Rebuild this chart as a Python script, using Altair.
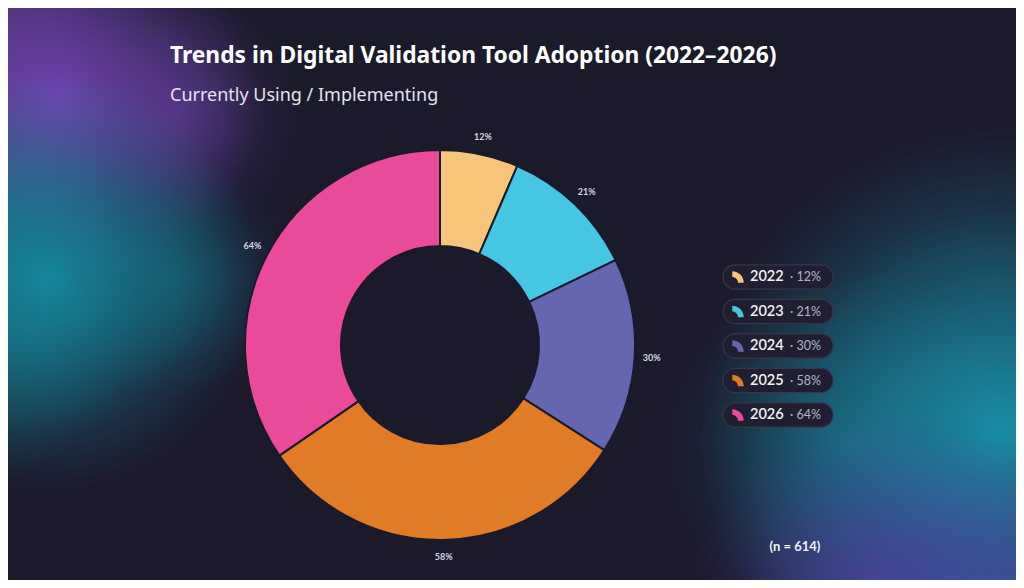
import altair as alt
import pandas as pd

# ---- data ----
years = ["2022", "2023", "2024", "2025", "2026"]
values = [12, 21, 30, 58, 64]
colors = ["#F7C57A", "#45C7E3", "#6467B0", "#E27B25", "#EA4A9A"]

title_text = "Trends in Digital Validation Tool Adoption (2022–2026)"
subtitle_text = "Currently Using / Implementing"
note_text = "(n = 614)"

df = pd.DataFrame({"year": years, "value": values, "idx": list(range(len(years)))})

BG = "#1b1a2b"
FONT = "Lato"
TFONT = "Noto Sans"
W, H = 1008, 572
CX, CY = 432, 337

color_scale = alt.Scale(domain=years, range=colors)
one = alt.Data(values=[{}])


def blob(cx, cy, r, rgb, a):
    grad = alt.RadialGradient(
        gradient="radial", x1=0.5, y1=0.5, r1=0, x2=0.5, y2=0.5, r2=0.5,
        stops=[
            alt.GradientStop(color=f"rgba({rgb},{a})", offset=0),
            alt.GradientStop(color=f"rgba({rgb},{a*0.6})", offset=0.4),
            alt.GradientStop(color=f"rgba({rgb},{a*0.2})", offset=0.75),
            alt.GradientStop(color=f"rgba({rgb},0)", offset=1),
        ],
    )
    return alt.Chart(one).mark_rect(fill=grad, clip=True).encode(
        x=alt.value(cx - r), x2=alt.value(cx + r),
        y=alt.value(cy - r), y2=alt.value(cy + r),
    )


blobs = [
    blob(50, 90, 200, "112,68,178", 0.95),
    blob(170, 105, 120, "112,68,178", 0.5),
    blob(-40, 60, 180, "112,68,178", 0.6),
    blob(40, 272, 210, "20,138,158", 0.95),
    blob(165, 268, 120, "20,130,150", 0.45),
    blob(-60, 280, 200, "20,138,158", 0.6),
    blob(992, 420, 300, "24,148,172", 0.95),
    blob(840, 440, 180, "24,140,165", 0.45),
    blob(880, 600, 200, "84,66,170", 0.85),
    blob(1010, 590, 160, "70,80,170", 0.7),
]

base = alt.Chart(df)

arcs = base.mark_arc(outerRadius=195, innerRadius=99, stroke=BG, strokeWidth=2).encode(
    theta=alt.Theta("value:Q", stack=True),
    color=alt.Color("year:N", scale=color_scale, legend=None),
    order=alt.Order("idx:Q"),
    x=alt.value(CX), y=alt.value(CY),
)

arc_labels = base.mark_text(radius=212, fontSize=9, fontWeight="bold", font=FONT,
                            color="#d6d6e0").encode(
    theta=alt.Theta("value:Q", stack=True),
    order=alt.Order("idx:Q"),
    text=alt.Text("lbl:N"),
    x=alt.value(CX), y=alt.value(CY),
).transform_calculate(lbl="datum.value + '%'")

ly = alt.Scale(domain=[0, 4], range=[269, 407])

pills = base.mark_rect(cornerRadius=12, fill="#201f31", stroke="#36364c", strokeWidth=1.2).encode(
    x=alt.value(715), x2=alt.value(825),
    y=alt.Y("y0:Q", scale=ly, axis=None), y2="y1:Q",
).transform_calculate(y0="datum.idx - 0.35", y1="datum.idx + 0.35")

icon_path = "M -1 -1 A 2 2 0 0 1 1 1 L 0 1 A 1 1 0 0 0 -1 0 Z"
icons = base.mark_point(shape=icon_path, size=130, filled=True, opacity=1).encode(
    x=alt.value(730),
    y=alt.Y("idx:Q", scale=ly, axis=None),
    color=alt.Color("year:N", scale=color_scale, legend=None),
)

year_txt = base.mark_text(align="left", baseline="middle", fontSize=14.5, fontWeight=600,
                          font=FONT, color="#f2f2f6").encode(
    x=alt.value(742),
    y=alt.Y("idx:Q", scale=ly, axis=None),
    text="year:N",
)

pct_txt = base.mark_text(align="left", baseline="middle", fontSize=12.5, font=FONT,
                         color="#b4b4c6").encode(
    x=alt.value(782),
    y=alt.Y("idx:Q", scale=ly, axis=None),
    text="lbl:N",
).transform_calculate(lbl="'·  ' + datum.value + '%'")

title = alt.Chart(one).mark_text(text=title_text, align="left", baseline="alphabetic",
                                 fontSize=22.8, fontWeight="bold", font=TFONT, color="#ffffff").encode(
    x=alt.value(162), y=alt.value(55))
subtitle = alt.Chart(one).mark_text(text=subtitle_text, align="left", baseline="alphabetic",
                                    fontSize=18, font=TFONT, color="#e4e4ee").encode(
    x=alt.value(162), y=alt.value(93))
note = alt.Chart(one).mark_text(text=note_text, align="center", baseline="middle",
                                fontSize=13, fontWeight="bold", font=FONT, color="#f2f2f6").encode(
    x=alt.value(787), y=alt.value(539))

chart = alt.layer(
    *blobs, arcs, arc_labels, pills, icons, year_txt, pct_txt, title, subtitle, note
).properties(
    width=W, height=H, background=BG, padding=0,
    autosize=alt.AutoSizeParams(type="none"),
).configure_view(stroke=None)

chart.save("out.html", embed_options={"renderer": "svg", "actions": False})
